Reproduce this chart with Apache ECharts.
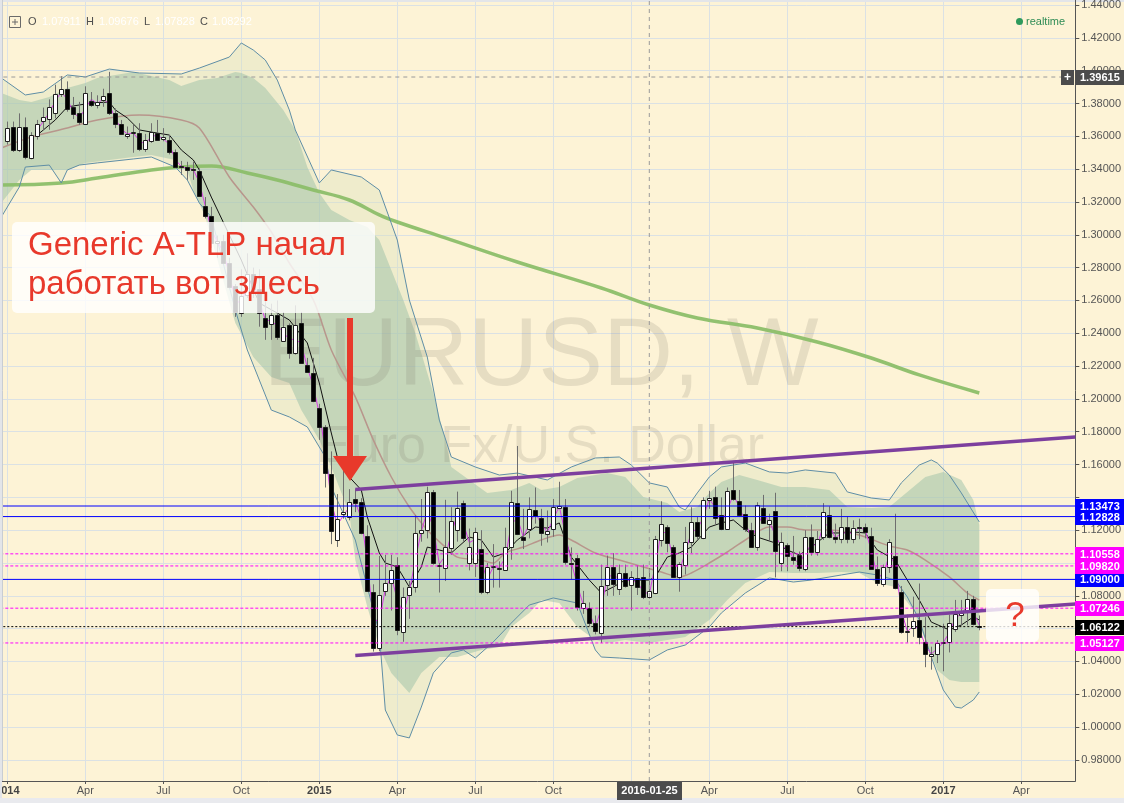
<!DOCTYPE html>
<html>
<head>
<meta charset="utf-8">
<script src="https://cdn.jsdelivr.net/npm/echarts@6.0.0/dist/echarts.min.js"></script>
<style>
  html, body { margin: 0; padding: 0; background: #fdf3d6; }
  #chart { width: 1124px; height: 803px; }
</style>
</head>
<body>
<div id="chart"></div>
<script>
// EURUSD, W - weekly candles 2014..2017 with bands, averages and levels

const FONT = '"Liberation Sans", Arial, sans-serif';

// weekly categories: index 0 = 2013-12-23, first candle (2014-01-06) at index 2
const firstWeek = Date.UTC(2013, 11, 23);
const weekCount = 181;
const firstCandleCat = 2;
const crossCat = 109; // 2016-01-25
const crossPrice = 1.39615;

// [open, close, low, high] for each week from 2014-01-06
const ohlc = [
  [1.3572,1.3650,1.3550,1.3690],[1.3655,1.3517,1.3505,1.3690],[1.3517,1.3655,1.3505,1.3740],[1.3655,1.3474,1.3460,1.3715],
  [1.3468,1.3608,1.3460,1.3625],[1.3602,1.3675,1.3580,1.3700],[1.3693,1.3718,1.3640,1.3775],[1.3709,1.3780,1.3640,1.3825],
  [1.3740,1.3855,1.3710,1.3915],[1.3855,1.3886,1.3840,1.3967],[1.3886,1.3765,1.3750,1.3935],[1.3777,1.3735,1.3705,1.3840],
  [1.3741,1.3686,1.3670,1.3810],[1.3675,1.3862,1.3670,1.3905],[1.3817,1.3791,1.3780,1.3870],[1.3791,1.3809,1.3770,1.3850],
  [1.3821,1.3848,1.3780,1.3890],[1.3862,1.3740,1.3730,1.3993],[1.3740,1.3675,1.3650,1.3770],[1.3675,1.3614,1.3610,1.3700],
  [1.3602,1.3614,1.3585,1.3660],[1.3624,1.3628,1.3500,1.3670],[1.3620,1.3523,1.3510,1.3680],[1.3523,1.3578,1.3505,1.3615],
  [1.3572,1.3629,1.3560,1.3680],[1.3620,1.3578,1.3575,1.3700],[1.3578,1.3593,1.3570,1.3650],[1.3578,1.3506,1.3490,1.3610],
  [1.3506,1.3415,1.3415,1.3520],[1.3418,1.3413,1.3365,1.3450],[1.3415,1.3395,1.3335,1.3445],[1.3400,1.3398,1.3335,1.3445],
  [1.3390,1.3240,1.3235,1.3405],[1.3175,1.3114,1.3100,1.3230],[1.3114,1.2950,1.2920,1.3170],[1.2950,1.2965,1.2860,1.2995],
  [1.2965,1.2830,1.2825,1.3000],[1.2830,1.2685,1.2680,1.2860],[1.2685,1.2525,1.2500,1.2700],[1.2525,1.2630,1.2500,1.2790],
  [1.2630,1.2760,1.2615,1.2887],[1.2760,1.2670,1.2615,1.2800],[1.2670,1.2525,1.2440,1.2790],[1.2493,1.2438,1.2360,1.2600],
  [1.2456,1.2511,1.2360,1.2580],[1.2511,1.2377,1.2360,1.2600],[1.2353,1.2438,1.2350,1.2530],[1.2450,1.2280,1.2245,1.2460],
  [1.2280,1.2450,1.2270,1.2570],[1.2462,1.2219,1.2215,1.2530],[1.2207,1.2164,1.2160,1.2250],[1.2158,1.1990,1.1980,1.2250],
  [1.1945,1.1829,1.1750,1.1970],[1.1829,1.1549,1.1460,1.1840],[1.1542,1.1195,1.1115,1.1680],[1.1140,1.1268,1.1098,1.1420],
  [1.1300,1.1310,1.1270,1.1580],[1.1280,1.1372,1.1260,1.1450],[1.1390,1.1366,1.1310,1.1450],[1.1372,1.1183,1.1175,1.1395],
  [1.1165,1.0829,1.0825,1.1230],[1.0823,1.0482,1.0460,1.0870],[1.0482,1.0805,1.0462,1.1043],[1.0829,1.0878,1.0800,1.1050],
  [1.0878,1.0957,1.0710,1.1050],[1.0988,1.0592,1.0560,1.1035],[1.0580,1.0793,1.0520,1.0850],[1.0805,1.0854,1.0660,1.0890],
  [1.0854,1.1183,1.0820,1.1290],[1.1183,1.1201,1.1130,1.1390],[1.1201,1.1433,1.1150,1.1465],[1.1433,1.1000,1.0990,1.1445],
  [1.0990,1.0988,1.0820,1.1000],[1.0969,1.1097,1.0890,1.1385],[1.1091,1.1256,1.1050,1.1340],[1.1201,1.1335,1.1130,1.1435],
  [1.1366,1.1152,1.1130,1.1380],[1.1000,1.1097,1.0955,1.1210],[1.1000,1.1190,1.0915,1.1215],[1.1085,1.0823,1.0810,1.1200],
  [1.0823,1.0975,1.0810,1.1000],[1.0975,1.0980,1.0850,1.1115],[1.0970,1.0965,1.0850,1.1010],[1.0957,1.1097,1.0955,1.1215],
  [1.1097,1.1372,1.1020,1.1440],[1.1366,1.1177,1.1170,1.1713],[1.1159,1.1140,1.1085,1.1330],[1.1207,1.1329,1.1150,1.1400],
  [1.1323,1.1286,1.1240,1.1460],[1.1274,1.1183,1.1105,1.1330],[1.1177,1.1195,1.1125,1.1320],[1.1207,1.1341,1.1160,1.1390],
  [1.1335,1.1347,1.1330,1.1495],[1.1341,1.1006,1.0990,1.1390],[1.1003,1.1000,1.0900,1.1095],[1.1031,1.0732,1.0710,1.1050],
  [1.0726,1.0756,1.0690,1.0830],[1.0726,1.0634,1.0615,1.0760],[1.0634,1.0585,1.0565,1.0680],[1.0573,1.0860,1.0512,1.0990],
  [1.0866,1.0976,1.0800,1.1045],[1.0976,1.0872,1.0800,1.1060],[1.0841,1.0939,1.0805,1.0990],[1.0939,1.0860,1.0850,1.0990],
  [1.0866,1.0915,1.0710,1.0950],[1.0909,1.0854,1.0805,1.0985],[1.0915,1.0793,1.0780,1.0990],[1.0791,1.0829,1.0783,1.0968],
  [1.0817,1.1146,1.0810,1.1165],[1.1140,1.1238,1.1100,1.1376],[1.1219,1.1122,1.1065,1.1230],[1.1097,1.0915,1.0910,1.1110],
  [1.0915,1.0994,1.0825,1.1005],[1.0988,1.1128,1.0930,1.1220],[1.1128,1.1250,1.1060,1.1340],[1.1250,1.1165,1.1145,1.1280],
  [1.1152,1.1384,1.1145,1.1400],[1.1384,1.1398,1.1330,1.1440],[1.1402,1.1274,1.1235,1.1465],[1.1292,1.1207,1.1200,1.1400],
  [1.1207,1.1439,1.1205,1.1460],[1.1445,1.1390,1.1380,1.1616],[1.1378,1.1292,1.1285,1.1445],[1.1298,1.1207,1.1190,1.1350],
  [1.1201,1.1097,1.1095,1.1245],[1.1097,1.1353,1.1075,1.1370],[1.1335,1.1244,1.1240,1.1415],[1.1238,1.1262,1.1130,1.1300],
  [1.1317,1.1073,1.0912,1.1428],[1.1000,1.1128,1.0950,1.1185],[1.1110,1.1043,1.0950,1.1120],[1.1036,1.1018,1.0990,1.1165],
  [1.1049,1.0969,1.0950,1.1070],[1.0963,1.1158,1.0950,1.1200],[1.1158,1.1067,1.1045,1.1235],[1.1067,1.1146,1.1045,1.1195],
  [1.1158,1.1311,1.1140,1.1365],[1.1292,1.1158,1.1150,1.1345],[1.1158,1.1146,1.1120,1.1240],[1.1146,1.1219,1.1120,1.1330],
  [1.1219,1.1146,1.1120,1.1285],[1.1146,1.1213,1.1120,1.1260],[1.1219,1.1213,1.1145,1.1270],[1.1219,1.1189,1.1150,1.1240],
  [1.1164,1.0963,1.0960,1.1215],[1.0963,1.0878,1.0860,1.1040],[1.0872,1.0975,1.0855,1.0990],[1.0975,1.1128,1.0940,1.1145],
  [1.1043,1.0848,1.0840,1.1300],[1.0823,1.0579,1.0570,1.0860],[1.0585,1.0585,1.0515,1.0685],[1.0604,1.0646,1.0550,1.0795],
  [1.0652,1.0549,1.0505,1.0875],[1.0518,1.0445,1.0365,1.0670],[1.0433,1.0445,1.0350,1.0490],[1.0445,1.0512,1.0390,1.0530],
  [1.0512,1.0518,1.0340,1.0630],[1.0518,1.0634,1.0455,1.0685],[1.0598,1.0689,1.0580,1.0775],[1.0683,1.0695,1.0620,1.0775],
  [1.0701,1.0780,1.0620,1.0830],[1.0780,1.0628,1.0620,1.0800],[1.0616,1.0610,1.0590,1.0680]
];

// indicator readings, [category index, price]
const upperBand = [[1,1.3956],[5,1.3852],[8,1.3870],[12,1.3974],[15,1.3962],[19,1.4010],[24,1.3986],[31,1.3980],[34,1.4016],[39,1.4083],[41,1.4169],[43,1.4126],[45,1.4065],[47,1.3943],[49,1.3761],[50,1.3639],[54,1.3316],[56,1.3395],[61,1.3352],[64,1.3273],[67,1.2968],[69,1.2603],[72,1.2255],[74,1.1871],[76,1.1646],[80,1.1585],[84,1.1536],[87,1.1548],[92,1.1506],[96,1.1585],[100,1.1640],[104,1.1646],[106,1.1597],[109,1.1488],[112,1.1463],[114,1.1341],[115,1.1323],[117,1.1427],[119,1.1524],[121,1.1585],[125,1.1609],[129,1.1555],[132,1.1548],[135,1.1567],[140,1.1548],[142,1.1433],[146,1.1396],[149,1.1384],[151,1.1488],[154,1.1597],[156,1.1628],[157,1.1609],[159,1.1536],[161,1.1427],[164,1.1250]];
const lowerBand = [[1,1.3108],[4,1.3291],[5,1.3413],[9,1.3425],[11,1.3316],[12,1.3395],[14,1.3425],[17,1.3438],[23,1.3462],[26,1.3474],[30,1.3413],[32,1.3334],[34,1.3194],[36,1.3108],[40,1.2542],[42,1.2298],[46,1.1932],[49,1.1890],[52,1.1829],[55,1.1646],[56,1.1463],[60,1.1140],[62,1.0854],[64,1.0573],[65,1.0104],[67,0.9952],[69,0.9934],[71,1.0122],[73,1.0330],[76,1.0452],[78,1.0470],[80,1.0421],[83,1.0519],[86,1.0634],[89,1.0744],[93,1.0787],[97,1.0756],[100,1.0470],[101,1.0427],[104,1.0421],[109,1.0409],[112,1.0470],[115,1.0500],[119,1.0610],[121,1.0695],[125,1.0817],[129,1.0909],[133,1.0884],[136,1.0896],[141,1.0927],[144,1.0945],[147,1.0927],[150,1.0896],[152,1.0793],[154,1.0653],[156,1.0427],[158,1.0226],[160,1.0122],[161,1.0116],[163,1.0165],[164,1.0214]];
const innerTop = [[1,1.3864],[4,1.3821],[6,1.3809],[9,1.3840],[12,1.3895],[15,1.3925],[17,1.3956],[23,1.3992],[29,1.3943],[31,1.3907],[34,1.3943],[37,1.3956],[40,1.3992],[41,1.3986],[43,1.3956],[45,1.3895],[48,1.3761],[50,1.3639],[52,1.3413],[54,1.3255],[56,1.3151],[59,1.3090],[62,1.3048],[64,1.2968],[68,1.2603],[70,1.2402],[73,1.2036],[75,1.1750],[76,1.1585],[79,1.1506],[82,1.1427],[86,1.1445],[89,1.1488],[91,1.1445],[94,1.1463],[97,1.1518],[102,1.1548],[105,1.1524],[108,1.1402],[112,1.1366],[114,1.1311],[117,1.1341],[119,1.1427],[121,1.1494],[124,1.1536],[127,1.1506],[131,1.1463],[135,1.1463],[139,1.1445],[142,1.1341],[146,1.1335],[149,1.1341],[151,1.1402],[155,1.1524],[158,1.1555],[161,1.1506],[163,1.1384],[164,1.1232]];
const innerBottom = [[1,1.3194],[4,1.3334],[6,1.3395],[9,1.3395],[12,1.3395],[15,1.3438],[19,1.3456],[23,1.3474],[26,1.3486],[30,1.3456],[32,1.3395],[33,1.3273],[35,1.3108],[40,1.2463],[43,1.2255],[46,1.2133],[49,1.2097],[51,1.1932],[54,1.1750],[56,1.1585],[59,1.1305],[60,1.1018],[62,1.0732],[64,1.0488],[66,1.0330],[69,1.0208],[71,1.0330],[74,1.0427],[77,1.0427],[81,1.0470],[84,1.0488],[86,1.0610],[89,1.0695],[91,1.0774],[94,1.0756],[97,1.0610],[100,1.0531],[102,1.0512],[105,1.0531],[109,1.0512],[112,1.0531],[115,1.0549],[119,1.0653],[122,1.0774],[125,1.0878],[129,1.0945],[133,1.0939],[137,1.0939],[141,1.0945],[144,1.0939],[147,1.0878],[150,1.0854],[153,1.0714],[155,1.0531],[157,1.0348],[159,1.0287],[161,1.0275],[164,1.0275]];
const basis = [[1,1.3529],[6,1.3596],[12,1.3651],[17,1.3700],[24,1.3730],[31,1.3700],[34,1.3651],[39,1.3352],[43,1.3169],[46,1.3017],[49,1.2828],[53,1.2603],[56,1.2298],[60,1.2012],[63,1.1750],[66,1.1524],[69,1.1341],[72,1.1201],[75,1.1097],[77,1.1036],[81,1.1018],[83,1.1000],[85,1.1061],[88,1.1097],[91,1.1140],[94,1.1171],[96,1.1140],[100,1.1061],[104,1.1018],[108,1.0976],[111,1.0945],[114,1.0915],[116,1.0939],[119,1.1000],[122,1.1067],[125,1.1140],[129,1.1219],[132,1.1219],[135,1.1201],[139,1.1201],[142,1.1189],[145,1.1158],[149,1.1104],[152,1.1079],[155,1.1018],[159,1.0915],[162,1.0817],[164,1.0774]];
const fastMA = [[7,1.3608],[10,1.3700],[12,1.3779],[14,1.3791],[16,1.3803],[19,1.3809],[20,1.3761],[22,1.3712],[24,1.3639],[26,1.3626],[29,1.3608],[31,1.3517],[33,1.3456],[34,1.3395],[36,1.3230],[41,1.2846],[44,1.2584],[47,1.2523],[49,1.2481],[52,1.2341],[54,1.2097],[56,1.1792],[57,1.1646],[59,1.1524],[61,1.1445],[62,1.1280],[64,1.1061],[65,1.1000],[67,1.0976],[69,1.0854],[71,1.0976],[72,1.1097],[74,1.1079],[76,1.1061],[79,1.1158],[81,1.1140],[83,1.1036],[85,1.1061],[87,1.1140],[90,1.1219],[92,1.1213],[94,1.1244],[96,1.1036],[99,1.0896],[101,1.0817],[103,1.0854],[105,1.0896],[109,1.0896],[110,1.0915],[112,1.1036],[114,1.1061],[116,1.1097],[119,1.1219],[121,1.1244],[123,1.1262],[125,1.1201],[127,1.1158],[130,1.1122],[132,1.1079],[134,1.1049],[136,1.1097],[139,1.1183],[141,1.1183],[143,1.1189],[145,1.1183],[147,1.1079],[150,1.1018],[152,1.0896],[154,1.0774],[156,1.0640],[159,1.0592],[161,1.0622],[163,1.0671],[164,1.0653]];
const fastestMA = [[7,1.3640],[8,1.3690],[9,1.3745],[10,1.3815],[11,1.3870],[12,1.3825],[13,1.3750],[14,1.3710],[15,1.3770],[16,1.3826],[17,1.3800],[18,1.3828],[19,1.3795],[20,1.3708],[21,1.3645],[22,1.3614],[23,1.3620],[24,1.3575],[25,1.3550],[26,1.3603],[27,1.3604],[28,1.3585],[29,1.3550],[30,1.3460],[31,1.3415],[32,1.3405],[33,1.3398],[34,1.3320],[35,1.3175],[36,1.3030],[37,1.2958],[38,1.2898],[39,1.2758],[40,1.2605],[41,1.2578],[42,1.2695],[43,1.2715],[44,1.2598],[45,1.2482],[46,1.2475],[47,1.2444],[48,1.2408],[49,1.2360],[50,1.2365],[51,1.2335],[52,1.2192],[53,1.2077],[54,1.1910],[55,1.1689],[56,1.1372],[57,1.1232],[58,1.1289],[59,1.1341],[60,1.1369],[61,1.1275],[62,1.1006],[63,1.0656],[64,1.0644],[65,1.0842],[66,1.0918],[67,1.0775],[68,1.0693],[69,1.0824],[70,1.1019],[71,1.1192],[72,1.1317],[73,1.1217],[74,1.0994],[75,1.1043],[76,1.1177],[77,1.1296],[78,1.1244],[79,1.1124],[80,1.1145],[81,1.1006],[82,1.0899],[83,1.0978],[84,1.0973],[85,1.1031],[86,1.1235],[87,1.1275],[88,1.1159],[89,1.1235],[90,1.1308],[91,1.1235],[92,1.1189],[93,1.1268],[94,1.1344],[95,1.1177],[96,1.1003],[97,1.0866],[98,1.0744],[99,1.0695],[100,1.0610],[101,1.0723],[102,1.0918],[103,1.0924],[104,1.0906],[105,1.0900],[106,1.0888],[107,1.0885],[108,1.0824],[109,1.0811],[110,1.0988],[111,1.1192],[112,1.1180],[113,1.1019],[114,1.0955],[115,1.1061],[116,1.1189],[117,1.1208],[118,1.1275],[119,1.1391],[120,1.1336],[121,1.1241],[122,1.1323],[123,1.1415],[124,1.1341],[125,1.1250],[126,1.1152],[127,1.1225],[128,1.1299],[129,1.1253],[130,1.1168],[131,1.1101],[132,1.1086],[133,1.1031],[134,1.0994],[135,1.1064],[136,1.1113],[137,1.1107],[138,1.1229],[139,1.1235],[140,1.1152],[141,1.1183],[142,1.1183],[143,1.1180],[144,1.1216],[145,1.1201],[146,1.1076],[147,1.0921],[148,1.0927],[149,1.1052],[150,1.0988],[151,1.0714],[152,1.0582],[153,1.0616],[154,1.0598],[155,1.0497],[156,1.0445],[157,1.0479],[158,1.0515],[159,1.0576],[160,1.0662],[161,1.0692],[162,1.0738],[163,1.0704],[164,1.0619]];
const slowMA = [[1,1.3303],[11,1.3316],[17,1.3346],[26,1.3395],[31,1.3413],[36,1.3419],[42,1.3377],[47,1.3334],[53,1.3273],[59,1.3212],[64,1.3121],[67,1.3078],[75,1.2981],[87,1.2834],[101,1.2676],[109,1.2572],[117,1.2493],[127,1.2432],[137,1.2347],[146,1.2249],[154,1.2146],[164,1.2036]];

// drawn trend channel and price levels
const upperTrend = [[60,1.1448],[180,1.1768]];
const lowerTrend = [[60,1.0436],[180,1.0750]];
const blueLevels = [1.13473, 1.12828, 1.09000];
const magentaLevels = [1.10558, 1.09820, 1.07246, 1.05127];
const blackLevels = [1.06122];
const hiddenTicks = [1.14, 1.10, 1.06];

const weeks = [];
for (let i = 0; i < weekCount; i++) {
  weeks.push(new Date(firstWeek + i * 7 * 86400000).toISOString().slice(0, 10));
}
const monthNames = ['Jan','Feb','Mar','Apr','May','Jun','Jul','Aug','Sep','Oct','Nov','Dec'];
const quarterTick = (idx) => idx >= firstCandleCat && (idx - firstCandleCat) % 13 === 0;
const yMin = 0.96715, yMax = 1.44308;

const chart = echarts.init(document.getElementById('chart'), null, { renderer: 'canvas' });

function band(top, bottom, fill, z) {
  return {
    type: 'custom', z: z, silent: true, data: [[0, 1.2]], encode: { x: 0, y: 1 },
    renderItem: function (params, api) {
      const pts = top.map(d => api.coord(d)).concat(bottom.slice().reverse().map(d => api.coord(d)));
      return { type: 'polygon', shape: { points: pts }, style: { fill: fill } };
    }
  };
}

function curve(data, color, width, smooth, z, dash) {
  return {
    type: 'line', data: data, z: z, silent: true, symbol: 'none', showSymbol: false,
    smooth: smooth, lineStyle: { color: color, width: width, type: dash || 'solid' }
  };
}

// full-width horizontal level as a two-point line
function level(v, color, dash) {
  return curve([[0, v], [weekCount - 1, v]], color, 1, false, 5, dash);
}

const levelSpecs = []
  .concat(blueLevels.map(v => [v, '#0000ff', 'solid', '#0000ff']))
  .concat(magentaLevels.map(v => [v, '#ff00ff', [3, 2], '#ff00ff']))
  .concat(blackLevels.map(v => [v, '#000000', [2, 2], '#000000']))
  .concat([[crossPrice, '#9a9a9a', [4, 4], '#4c4c4c']]);

const option = {
  animation: false,
  backgroundColor: '#fdf3d6',
  grid: { left: -4.7, right: 48.7, top: 0, bottom: 22, containLabel: false, outerBoundsMode: 'none' },
  xAxis: {
    type: 'category', data: weeks, boundaryGap: false,
    axisLine: { lineStyle: { color: '#555555' } },
    axisTick: { interval: quarterTick, length: 3, lineStyle: { color: '#555555' } },
    axisLabel: {
      interval: quarterTick, margin: 4, color: '#555555', fontFamily: FONT, fontSize: 11,
      formatter: function (v) {
        const d = new Date(v + 'T00:00:00Z');
        return d.getUTCMonth() === 0 ? '{y|' + d.getUTCFullYear() + '}' : monthNames[d.getUTCMonth()];
      },
      rich: { y: { fontWeight: 'bold', color: '#444444', fontFamily: FONT, fontSize: 11 } }
    },
    splitLine: { show: true, interval: quarterTick, lineStyle: { color: '#dbe1e4', width: 1 } }
  },
  yAxis: {
    type: 'value', position: 'right', min: yMin, max: yMax,
    splitNumber: 24, minInterval: 0.02, maxInterval: 0.02, scale: true,
    axisLine: { show: true, lineStyle: { color: '#555555' } },
    axisTick: { show: true, length: 4, lineStyle: { color: '#555555' } },
    axisLabel: {
      margin: 6, color: '#555555', fontFamily: FONT, fontSize: 11, showMinLabel: false, showMaxLabel: false,
      formatter: function (v) {
        if (Math.abs(v * 50 - Math.round(v * 50)) > 1e-6) return '';
        if (hiddenTicks.some(h => Math.abs(h - v) < 1e-6)) return '';
        return v.toFixed(5);
      }
    },
    splitLine: { show: true, lineStyle: { color: '#dbe1e4', width: 1 } }
  },
  series: [
    band(upperBand, lowerBand, 'rgba(215,225,190,0.38)', 1),
    band(innerTop, innerBottom, 'rgba(150,190,165,0.48)', 1),
    curve(slowMA, 'rgba(140,190,105,0.95)', 3.5, 0.4, 3),
    curve(upperBand, '#5f8ea6', 1, false, 3),
    curve(lowerBand, '#5f8ea6', 1, false, 3),
    curve(basis, '#b8968c', 1.5, 0.3, 3),
    curve(fastMA, '#111111', 1, false, 3),
    curve(fastestMA, '#d63ce8', 1, false, 3),
    {
      type: 'custom', z: 4, silent: true,
      data: ohlc.map((d, i) => [i + firstCandleCat, d[0], d[1], d[2], d[3]]),
      encode: { x: 0, y: [1, 2, 3, 4] },
      renderItem: function (params, api) {
        const cat = api.value(0);
        const o = api.value(1), c = api.value(2), lo = api.value(3), hi = api.value(4);
        const pH = api.coord([cat, hi]), pL = api.coord([cat, lo]);
        const pO = api.coord([cat, o]), pC = api.coord([cat, c]);
        const cx = Math.round(pH[0]) + 0.5;
        const top = Math.round(Math.min(pO[1], pC[1])) + 0.5;
        const h = Math.max(1, Math.round(Math.abs(pO[1] - pC[1])));
        return {
          type: 'group', children: [
            { type: 'line', shape: { x1: cx, y1: pH[1], x2: cx, y2: pL[1] }, style: { stroke: '#6e6e6e', lineWidth: 1 } },
            { type: 'rect', shape: { x: cx - 2, y: top, width: 4, height: h },
              style: { fill: c >= o ? '#ffffff' : '#000000', stroke: '#1e1e1e', lineWidth: 1 } }
          ]
        };
      }
    },
    curve([[crossCat, yMin], [crossCat, yMax]], '#9a9a9a', 1, false, 5, [4, 4])
  ]
  .concat(levelSpecs.map(s => level(s[0], s[1], s[2])))
  .concat([
    curve(upperTrend, '#7d3f9e', 3.5, false, 6),
    curve(lowerTrend, '#7d3f9e', 3.5, false, 6)
  ])
};

chart.setOption(option);

// overlay: price tags, watermark, legend, annotation
const toPx = (cat, price) => chart.convertToPixel({ gridIndex: 0 }, [cat, price]);
const axisX = toPx(weekCount - 1, 1.2)[0];
const crossX = toPx(crossCat, 1.2)[0];
const crossY = toPx(0, crossPrice)[1];

function label(text, x, y, font, fill, align, z) {
  return { type: 'text', x: x, y: y, z: z, silent: true,
           style: { text: text, font: font, fill: fill, align: align, textAlign: align,
                    verticalAlign: 'middle', textVerticalAlign: 'middle' } };
}

const priceTags = [];
levelSpecs.forEach(function (s) {
  const py = toPx(0, s[0])[1];
  priceTags.push({ type: 'rect', z: 20, silent: true, shape: { x: Math.round(axisX), y: Math.round(py) - 7, width: 52, height: 15 }, style: { fill: s[3] } });
  priceTags.push(label(s[0].toFixed(5), Math.round(axisX) + 5, Math.round(py) + 0.5, 'bold 11px ' + FONT, '#ffffff', 'left', 21));
});
priceTags.push({ type: 'rect', z: 20, silent: true, shape: { x: Math.round(axisX) - 14, y: Math.round(crossY) - 7, width: 13, height: 15 }, style: { fill: '#4c4c4c' } });
priceTags.push(label('+', Math.round(axisX) - 7.5, Math.round(crossY) + 0.5, 'bold 12px ' + FONT, '#ffffff', 'center', 21));
priceTags.push({ type: 'rect', z: 20, silent: true, shape: { x: Math.round(crossX) - 32, y: 782, width: 65, height: 18 }, style: { fill: '#4c4c4c' } });
priceTags.push(label(weeks[crossCat], Math.round(crossX) + 0.5, 791, 'bold 11px ' + FONT, '#ffffff', 'center', 21));

const legendParts = [['O', 28, '#4e4e4e'], ['1.07911', 42, '#ffffff'], ['H', 86, '#4e4e4e'], ['1.09676', 99, '#ffffff'],
                     ['L', 144, '#4e4e4e'], ['1.07828', 155, '#ffffff'], ['C', 200, '#4e4e4e'], ['1.08292', 212, '#ffffff']];

const graphics = [
  label('EURUSD, W', 541, 358, '97px ' + FONT, 'rgba(110,105,95,0.16)', 'center', 2),
  label('Euro Fx/U.S. Dollar', 540, 448, '52px ' + FONT, 'rgba(110,105,95,0.16)', 'center', 2),
  { type: 'rect', z: 0, silent: true, shape: { x: 0, y: 798, width: 1124, height: 5 }, style: { fill: '#e9eaee' } },
  { type: 'rect', z: 0, silent: true, shape: { x: 0, y: 0, width: 1124, height: 2 }, style: { fill: '#e3e5e9' } },
  { type: 'rect', z: 10, silent: true, shape: { x: 0, y: 0, width: 2, height: 798 }, style: { fill: '#e3e5e9' } },
  { type: 'line', z: 10, silent: true, shape: { x1: 2.5, y1: 0, x2: 2.5, y2: 781 }, style: { stroke: '#c9cdd2', lineWidth: 1 } },
  // legend
  { type: 'rect', z: 10, silent: true, shape: { x: 9.5, y: 16.5, width: 11, height: 11 }, style: { fill: 'none', stroke: '#6a6a6a', lineWidth: 1 } },
  { type: 'line', z: 10, silent: true, shape: { x1: 12, y1: 22, x2: 18, y2: 22 }, style: { stroke: '#6a6a6a', lineWidth: 1 } },
  { type: 'line', z: 10, silent: true, shape: { x1: 15, y1: 19, x2: 15, y2: 25 }, style: { stroke: '#6a6a6a', lineWidth: 1 } },
  { type: 'circle', z: 10, silent: true, shape: { cx: 1019.5, cy: 21.5, r: 3.5 }, style: { fill: '#2e9a5c' } },
  label('realtime', 1026, 22, '11px ' + FONT, '#2e8c55', 'left', 10),
  // annotation box + arrow
  { type: 'rect', z: 10, silent: true, shape: { x: 12, y: 222, width: 363, height: 91, r: 5 }, style: { fill: 'rgba(255,255,255,0.8)' } },
  label('Generic A-TLP начал', 28, 246, '33px ' + FONT, '#e8392b', 'left', 11),
  label('работать вот здесь', 28, 285, '33px ' + FONT, '#e8392b', 'left', 11),
  { type: 'rect', z: 11, silent: true, shape: { x: 347, y: 318, width: 6, height: 142 }, style: { fill: '#e8392b' } },
  { type: 'polygon', z: 11, silent: true, shape: { points: [[333, 456], [367, 456], [350, 481]] }, style: { fill: '#e8392b' } },
  { type: 'rect', z: 10, silent: true, shape: { x: 986, y: 589, width: 53, height: 53, r: 5 }, style: { fill: 'rgba(255,255,255,0.8)' } },
  label('?', 1015, 616, '35px ' + FONT, '#e8392b', 'center', 11)
].concat(legendParts.map(p => label(p[0], p[1], 22, '11px ' + FONT, p[2], 'left', 10)))
 .concat(priceTags);

chart.setOption({ graphic: graphics });
</script>
</body>
</html>
